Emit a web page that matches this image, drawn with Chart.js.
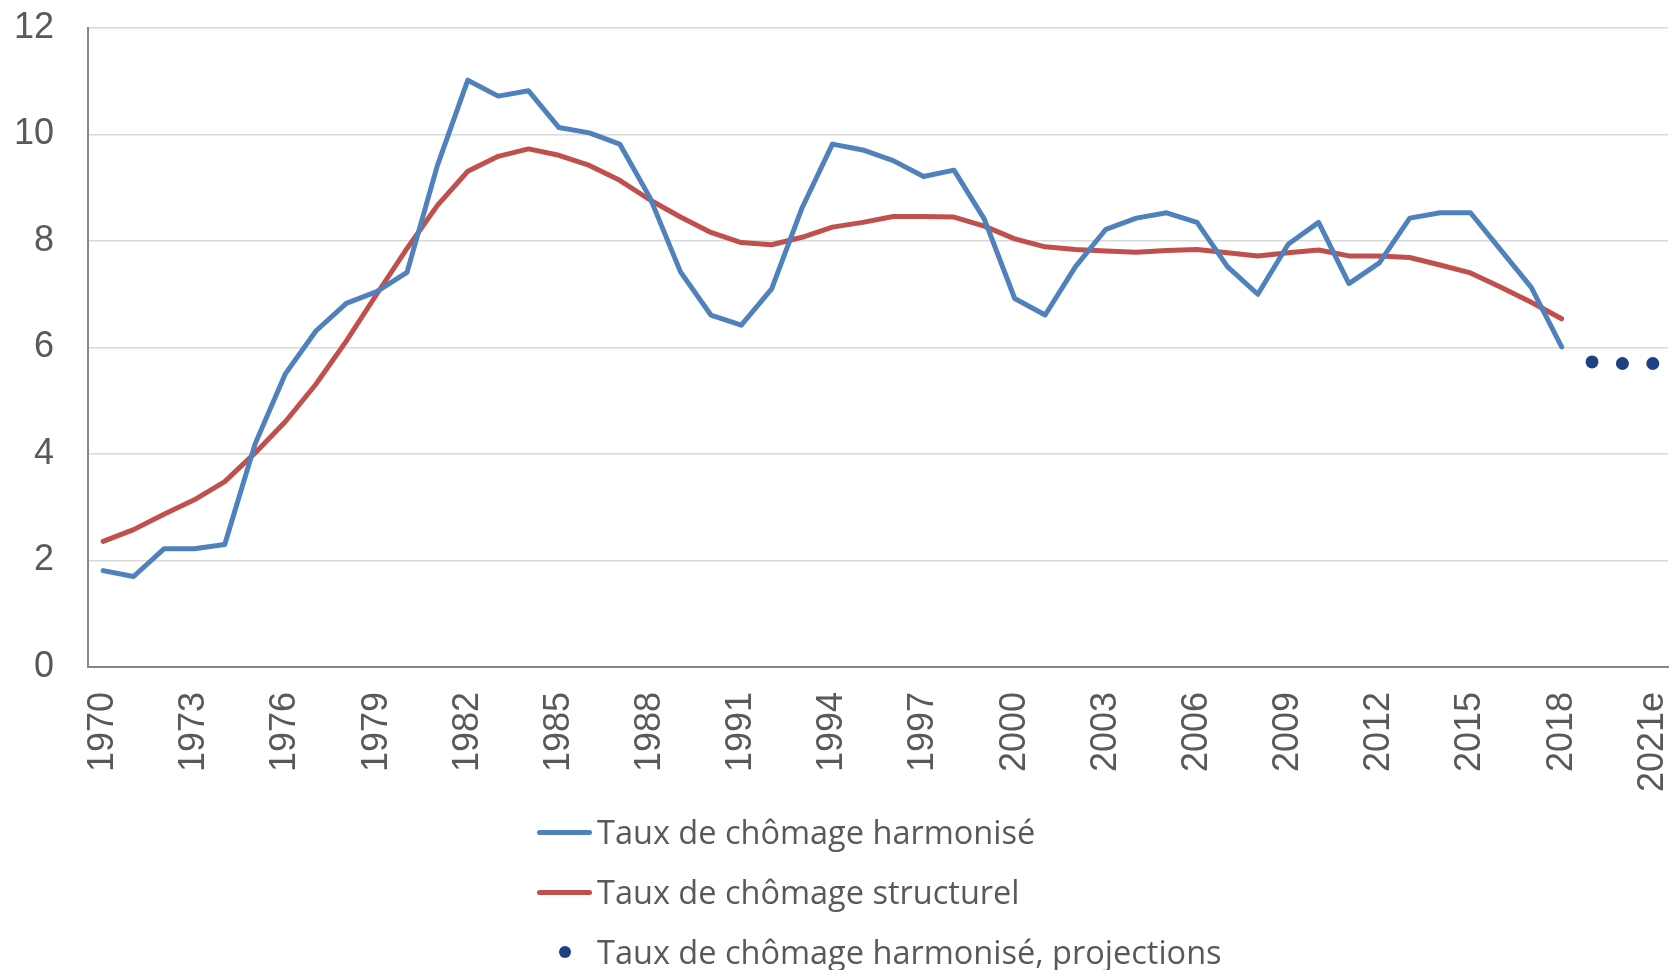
<!DOCTYPE html>
<html lang="fr">
<head>
<meta charset="utf-8">
<script src="https://cdn.jsdelivr.net/npm/chart.js@4"></script>
<style>
  html, body { margin: 0; padding: 0; background: #ffffff; }
  #wrap { position: relative; width: 1670px; height: 970px; }
  #legend { position: absolute; left: 0; top: 0; width: 1670px; height: 970px; pointer-events: none;
            font-family: "Open Sans", sans-serif; font-size: 32.5px; color: #595959; }
  .row { position: absolute; left: 537px; height: 40px; line-height: 40px; display: flex; align-items: center; white-space: nowrap; }
  .sw { display: inline-block; width: 55px; margin-right: 5px; position: relative; height: 40px; }
  .sw .ln { position: absolute; left: 0; top: 17.5px; width: 55px; height: 5px; border-radius: 3px; }
  .sw .dt { position: absolute; left: 21.5px; top: 14px; width: 12px; height: 12px; border-radius: 6px; }
</style>
</head>
<body>
<div id="wrap">
  <canvas id="c"></canvas>
  <div id="legend"></div>
</div>
<script>
const years = ['1970','1971','1972','1973','1974','1975','1976','1977','1978','1979',
  '1980','1981','1982','1983','1984','1985','1986','1987','1988','1989',
  '1990','1991','1992','1993','1994','1995','1996','1997','1998','1999',
  '2000','2001','2002','2003','2004','2005','2006','2007','2008','2009',
  '2010','2011','2012','2013','2014','2015','2016','2017','2018','2019',
  '2020','2021e'];

const harmonise = [1.81,1.70,2.22,2.22,2.30,4.19,5.51,6.31,6.83,7.05,
  7.41,9.42,11.02,10.72,10.82,10.13,10.03,9.82,8.81,7.42,
  6.61,6.42,7.10,8.62,9.82,9.71,9.51,9.21,9.33,8.41,
  6.92,6.61,7.52,8.22,8.43,8.53,8.35,7.52,7.00,7.94,
  8.35,7.20,7.59,8.43,8.53,8.53,7.83,7.13,6.01,null,
  null,null];

const structurel = [2.36,2.58,2.87,3.14,3.48,4.02,4.61,5.31,6.12,7.00,
  7.86,8.67,9.31,9.59,9.73,9.61,9.42,9.14,8.77,8.45,
  8.16,7.97,7.93,8.07,8.26,8.35,8.46,8.46,8.45,8.28,
  8.04,7.89,7.84,7.81,7.79,7.82,7.84,7.78,7.72,7.78,
  7.83,7.72,7.72,7.69,7.55,7.40,7.13,6.85,6.54,null,
  null,null];

const projections = [null,null,null,null,null,null,null,null,null,null,
  null,null,null,null,null,null,null,null,null,null,
  null,null,null,null,null,null,null,null,null,null,
  null,null,null,null,null,null,null,null,null,null,
  null,null,null,null,null,null,null,null,null,5.73,
  5.70,5.70];

const seriesNames = ['Taux de chômage harmonisé','Taux de chômage structurel','Taux de chômage harmonisé, projections'];
const yTicks = [0,2,4,6,8,10,12];
const tickEvery = 3;

const BLUE = '#4F81BD', RED = '#C0504D', NAVY = '#1F4184', TXT = '#595959';

const ctx = document.getElementById('c');
new Chart(ctx, {
  type: 'line',
  data: {
    labels: years,
    datasets: [
      { label: seriesNames[0], data: harmonise, borderColor: BLUE, backgroundColor: BLUE,
        borderWidth: 5, pointRadius: 0, tension: 0, borderJoinStyle: 'round', borderCapStyle: 'round', spanGaps: false },
      { label: seriesNames[1], data: structurel, borderColor: RED, backgroundColor: RED,
        borderWidth: 5, pointRadius: 0, tension: 0, borderJoinStyle: 'round', borderCapStyle: 'round', spanGaps: false },
      { label: seriesNames[2], data: projections, showLine: false, borderWidth: 0,
        pointRadius: 6.5, pointBackgroundColor: NAVY, pointBorderColor: NAVY, pointBorderWidth: 0, backgroundColor: NAVY }
    ]
  },
  options: {
    responsive: true,
    maintainAspectRatio: false,
    animation: false,
    events: [],
    layout: { autoPadding: false, padding: { top: 28, right: 2, bottom: 163, left: 0 } },
    plugins: { legend: { display: false }, tooltip: { enabled: false } },
    scales: {
      x: {
        offset: true,
        grid: { display: false, drawTicks: false },
        border: { display: true, color: '#868686', width: 2 },
        ticks: {
          autoSkip: false, maxRotation: 90, minRotation: 90, padding: 25, color: TXT,
          font: { family: '"Liberation Sans", Arial, sans-serif', size: 36, lineHeight: 1 },
          callback: (v, i) => (i % tickEvery === 0 ? years[i] : '')
        },
        afterFit: (s) => { s.height = 140; s.paddingLeft = 0; s.paddingRight = 0; }
      },
      y: {
        min: 0, max: 12,
        afterBuildTicks: (s) => { s.ticks = yTicks.map(v => ({ value: v })); },
        grid: { color: '#D9D9D9', lineWidth: 1.5, drawTicks: false },
        border: { display: true, color: '#868686', width: 2 },
        ticks: {
          padding: 34, color: TXT,
          font: { family: '"Liberation Sans", Arial, sans-serif', size: 36 }
        },
        afterFit: (s) => { s.width = 88; s.paddingTop = 0; s.paddingBottom = 0; }
      }
    }
  }
});

// Legend (HTML, real text)
const legendEl = document.getElementById('legend');
const legendItems = [
  { name: seriesNames[0], color: BLUE, kind: 'line', cy: 832 },
  { name: seriesNames[1], color: RED, kind: 'line', cy: 892 },
  { name: seriesNames[2], color: NAVY, kind: 'dot', cy: 952 }
];
legendItems.forEach(it => {
  const row = document.createElement('div');
  row.className = 'row';
  row.style.top = (it.cy - 20) + 'px';
  const sw = document.createElement('span');
  sw.className = 'sw';
  const mark = document.createElement('span');
  mark.className = it.kind === 'line' ? 'ln' : 'dt';
  mark.style.background = it.color;
  sw.appendChild(mark);
  const t = document.createElement('span');
  t.textContent = it.name;
  row.appendChild(sw);
  row.appendChild(t);
  legendEl.appendChild(row);
});
</script>
</body>
</html>
